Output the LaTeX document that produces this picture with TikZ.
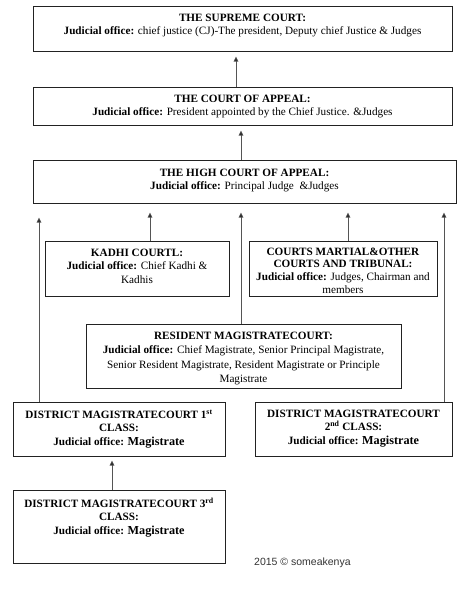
\documentclass[tikz,border=0pt]{standalone}
\usepackage{fontspec}
\setmainfont{Liberation Serif}
\newfontfamily\cpyfont{Liberation Sans}
\usetikzlibrary{arrows.meta}
\definecolor{boxline}{HTML}{222222}
\definecolor{arrline}{HTML}{555555}
\tikzset{
  courtbox/.style={draw=boxline, line width=1pt, minimum width=#1, inner sep=0pt},
  courttxt/.style={anchor=north, align=center, inner sep=0pt, font=\fontsize{11.2}{13.5}\selectfont},
  uparrow/.style={draw=arrline, line width=0.9pt, -{Triangle[length=5pt,width=4.5pt,fill=black]}},
}
\newcommand{\jocourt}{\textbf{Judicial office:}}
\newcommand{\magword}{\textbf{\fontsize{12.2}{13.5}\selectfont Magistrate}}
\begin{document}
\begin{tikzpicture}[x=1pt, y={(0pt,-1pt)}]
\useasboundingbox (0,0) rectangle (474,606);
% boxes
\node[courtbox=419pt, minimum height=45pt] (sup) at (242.5,28.5) {};
\node[courtbox=419pt, minimum height=38pt] (coa) at (242.5,106) {};
\node[courtbox=423pt, minimum height=43pt] (hc) at (244.5,181.5) {};
\node[courtbox=184pt, minimum height=55pt] (kad) at (137,268.5) {};
\node[courtbox=188pt, minimum height=55pt] (cm) at (343,268.5) {};
\node[courtbox=315pt, minimum height=64pt] (res) at (243.5,356) {};
\node[courtbox=212pt, minimum height=54pt] (d1) at (119,429) {};
\node[courtbox=197pt, minimum height=54pt] (d2) at (353.5,429) {};
\node[courtbox=212pt, minimum height=73pt] (d3) at (119,526.5) {};
% texts
\node[courttxt] (supt) at ([yshift=-8pt]sup.north) {\textbf{THE SUPREME COURT:}\\ \jocourt{} chief justice (CJ)-The president, Deputy chief Justice \& Judges};
\node[courttxt] (coat) at ([yshift=-8pt]coa.north) {\textbf{THE COURT OF APPEAL:}\\ \jocourt{} President appointed by the Chief Justice. \&Judges};
\node[courttxt] (hct) at ([yshift=-9pt]hc.north) {\textbf{THE HIGH COURT OF APPEAL:}\\ \jocourt{} Principal Judge \ \&Judges};
\node[courttxt] (kadt) at ([yshift=-8pt]kad.north) {\textbf{KADHI COURTL:}\\ \jocourt{} Chief Kadhi \&\\ Kadhis};
\node[courttxt, font=\fontsize{11.2}{12.8}\selectfont] (cmt) at ([yshift=-7pt]cm.north) {\textbf{COURTS MARTIAL\&OTHER}\\ \textbf{COURTS AND TRIBUNAL:}\\ \jocourt{} Judges, Chairman and\\ members};
\node[courttxt, font=\fontsize{11.2}{14.5}\selectfont] (rest) at ([yshift=-8pt]res.north) {\textbf{RESIDENT MAGISTRATECOURT:}\\ \jocourt{} Chief Magistrate, Senior Principal Magistrate,\\ Senior Resident Magistrate, Resident Magistrate or Principle\\ Magistrate};
\node[courttxt] (d1t) at ([yshift=-8pt]d1.north) {\textbf{DISTRICT MAGISTRATECOURT 1\textsuperscript{st}}\\ \textbf{CLASS:}\\ \jocourt{} \magword};
\node[courttxt] (d2t) at ([yshift=-8pt]d2.north) {\textbf{DISTRICT MAGISTRATECOURT}\\ \textbf{2\textsuperscript{nd} CLASS:}\\ \jocourt{} \magword};
\node[courttxt] (d3t) at ([yshift=-8pt]d3.north) {\textbf{DISTRICT MAGISTRATECOURT 3\textsuperscript{rd}}\\ \textbf{CLASS:}\\ \jocourt{} \magword};
\node[anchor=west, inner sep=0pt, font=\cpyfont\fontsize{10.5}{12}\selectfont, text=black!80] (cpy) at (254,563) {2015 © someakenya};
% arrow start points
\coordinate (a1) at ([xshift=-6.5pt]coa.north);
\coordinate (a2) at ([xshift=-3.5pt]hc.north);
\coordinate (a3) at ([xshift=13pt]kad.north);
\coordinate (a4) at ([xshift=-2.5pt]res.north);
\coordinate (a5) at ([xshift=5pt]cm.north);
\coordinate (a6) at ([xshift=-80pt]d1.north);
\coordinate (a7) at ([xshift=90.5pt]d2.north);
\coordinate (a8) at ([xshift=-7pt]d3.north);
% arrows
\draw[uparrow, shorten >=5pt] (a1) -- (a1 |- sup.south);
\draw[uparrow, shorten >=5pt] (a2) -- (a2 |- coa.south);
\draw[uparrow, shorten >=9pt] (a3) -- (a3 |- hc.south);
\draw[uparrow, shorten >=9pt] (a4) -- (a4 |- hc.south);
\draw[uparrow, shorten >=9pt] (a5) -- (a5 |- hc.south);
\draw[uparrow, shorten >=14pt] (a6) -- (a6 |- hc.south);
\draw[uparrow, shorten >=9pt] (a7) -- (a7 |- hc.south);
\draw[uparrow, shorten >=4pt] (a8) -- (a8 |- d1.south);
\end{tikzpicture}
\end{document}
